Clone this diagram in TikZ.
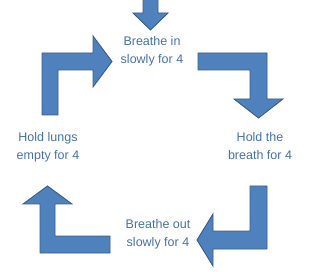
\documentclass[tikz,border=0pt]{standalone}
\usepackage{fontspec}
\setmainfont{Liberation Sans}
\definecolor{arrowfill}{HTML}{4F81BD}
\definecolor{arrowline}{HTML}{385D8A}
\definecolor{steptext}{HTML}{4472AC}

\begin{document}
\begin{tikzpicture}[
                x=1pt, y=-1pt,
                blockarrow/.style={fill=arrowfill, draw=arrowline, line width=0.9pt,
                            line join=miter},
                stage/.style={text=steptext, align=center,
                            font=\fontsize{12.5}{18}\selectfont}]
                \useasboundingbox (0,0) rectangle (310,272);
                % phase labels
                \node[stage] (inhale) at (152,51.5) {Breathe in\\slowly for 4};
                \node[stage] (hold) at (260,146) {Hold the\\breath for 4};
                \node[stage] (exhale) at (158,234) {Breathe out\\slowly for 4};
                \node[stage] (empty) at (48,147.5) {Hold lungs\\empty for 4};
                % arrows
                \draw[blockarrow] (143,-2) -- (158,-2) -- (158,13) -- (168,13)
                    -- (150.5,30) -- (133,13) -- (143,13) -- cycle;
                \draw[blockarrow] (42,115) -- (42,53) -- (93,53) -- (93,36)
                    -- (112,61.5) -- (93,87) -- (93,70) -- (58,70) -- (58,115) -- cycle;
                \draw[blockarrow] (198,53) -- (267,53) -- (267,99) -- (283,99)
                    -- (258.5,118) -- (234,99) -- (250,99) -- (250,70) -- (198,70) -- cycle;
                \draw[blockarrow] (250,186) -- (267,186) -- (267,249) -- (213,249)
                    -- (213,266) -- (197,240) -- (213,214) -- (213,231) -- (250,231) -- cycle;
                \draw[blockarrow] (110,236) -- (55,236) -- (55,204) -- (72,204)
                    -- (47.5,186) -- (23,204) -- (40,204) -- (40,253) -- (110,253) -- cycle;
            \end{tikzpicture}
\end{document}
